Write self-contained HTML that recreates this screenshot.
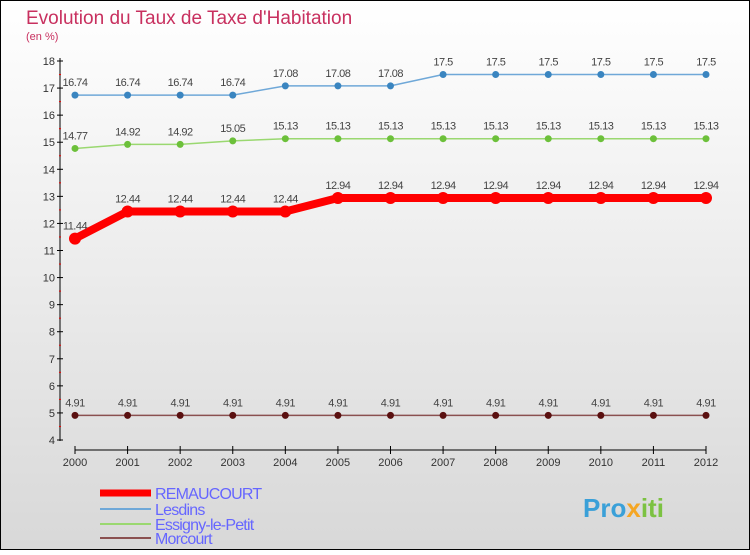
<!DOCTYPE html>
<html><head><meta charset="utf-8"><style>
html,body{margin:0;padding:0}
body{width:750px;height:550px;overflow:hidden;font-family:"Liberation Sans",sans-serif}
</style></head><body>
<svg width="750" height="550" xmlns="http://www.w3.org/2000/svg" id="svg">
<defs><linearGradient id="bg" x1="0" y1="0" x2="0" y2="1"><stop offset="0" stop-color="#ffffff"/><stop offset="1" stop-color="#d8d8d8"/></linearGradient></defs>
<rect x="0.5" y="0.5" width="749" height="549" fill="url(#bg)" stroke="#000"/>
<text x="26" y="24" font-size="19" fill="#c8305f">Evolution du Taux de Taxe d'Habitation</text>
<text x="26" y="40" font-size="11" fill="#c8305f">(en %)</text>
<g id="axes"></g><g id="series"></g><g id="legend"></g>
<text x="583" y="517" font-size="26" font-weight="bold" fill="#3aa0d8">Pro<tspan fill="#f5a623">x</tspan><tspan fill="#7cc242">iti</tspan></text>
</svg>
<script>
const years=[2000,2001,2002,2003,2004,2005,2006,2007,2008,2009,2010,2011,2012];
const remaucourt=[11.44,12.44,12.44,12.44,12.44,12.94,12.94,12.94,12.94,12.94,12.94,12.94,12.94];
const lesdins=[16.74,16.74,16.74,16.74,17.08,17.08,17.08,17.5,17.5,17.5,17.5,17.5,17.5];
const essigny=[14.77,14.92,14.92,15.05,15.13,15.13,15.13,15.13,15.13,15.13,15.13,15.13,15.13];
const morcourt=[4.91,4.91,4.91,4.91,4.91,4.91,4.91,4.91,4.91,4.91,4.91,4.91,4.91];
const yTicks=[4,5,6,7,8,9,10,11,12,13,14,15,16,17,18];
const NS="http://www.w3.org/2000/svg";
const X=i=>75+i*(706-75)/(years.length-1);
const Y=v=>440-(v-4)*(440-61)/14;
function mk(t,a,p){const e=document.createElementNS(NS,t);for(const k in a)e.setAttribute(k,a[k]);p.appendChild(e);return e;}
const ax=document.getElementById('axes');
let e=mk('line',{x1:60,y1:58,x2:60,y2:441,stroke:'#000'},ax);


e=mk('line',{x1:75,y1:450,x2:706,y2:450,stroke:'#000'},ax);


yTicks.forEach(v=>{
 mk('line',{x1:57,y1:Y(v),x2:63,y2:Y(v),stroke:'#000'},ax);
 if(v<18) mk('line',{x1:59,y1:Y(v+0.5),x2:61,y2:Y(v+0.5),stroke:'#e00'},ax);
 const t=mk('text',{x:55,y:Y(v)+4,'font-size':11,fill:'#333','text-anchor':'end'},ax);t.textContent=v;
 
 
});
years.forEach((y,i)=>{
 mk('line',{x1:X(i),y1:446,x2:X(i),y2:454,stroke:'#000'},ax);
 const t=mk('text',{x:X(i),y:466,'font-size':11,fill:'#333','text-anchor':'middle'},ax);t.textContent=y;
 
 
});
const sg=document.getElementById('series');
function series(name,vals,color,w,r,dot){
 const g=mk('g',{},sg);
 
 
 mk('polyline',{points:vals.map((v,i)=>X(i)+','+Y(v)).join(' '),fill:'none',stroke:color,'stroke-width':w,'stroke-linejoin':'round'},g);
 vals.forEach((v,i)=>{
  const c=mk('circle',{cx:X(i),cy:Y(v),r:r,fill:dot},g);
  
  
  const t=mk('text',{x:X(i),y:Y(v)-9,'font-size':11,fill:'#444','text-anchor':'middle','letter-spacing':'-0.5'},g);
  t.textContent=String(v);
  
  
 });
}
series('lesdins',lesdins,'#6fa8d8',1.5,3.5,'#3a85c0');
series('essigny',essigny,'#9ad870',1.5,3.5,'#6cc03a');
series('morcourt',morcourt,'#8a5050',1.5,3.5,'#5a1010');
series('remaucourt',remaucourt,'#ff0000',8,6,'#ff0000');
const lg=document.getElementById('legend');
[['REMAUCOURT','#ff0000',7,493],['Lesdins','#6fa8d8',2,509],['Essigny-le-Petit','#9ad870',2,524],['Morcourt','#8a5050',2,538]].forEach(d=>{
 const g=mk('g',{},lg);
 
 
 mk('line',{x1:100,y1:d[3],x2:151,y2:d[3],stroke:d[1],'stroke-width':d[2]},g);
 const t=mk('text',{x:155,y:d[3]+6,'font-size':16,fill:'#6666ff','letter-spacing':'-0.8'},g);t.textContent=d[0];
});
</script>
</body></html>
